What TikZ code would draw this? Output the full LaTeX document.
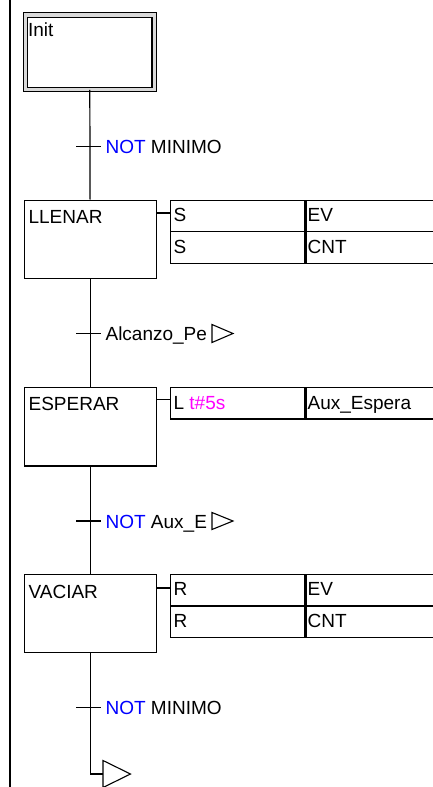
\documentclass[tikz,border=0pt]{standalone}
\usepackage{fontspec}
\setmainfont{Liberation Sans}
\definecolor{notblue}{RGB}{0,0,255}
\definecolor{timemag}{RGB}{255,0,255}
\begin{document}
\begin{tikzpicture}[x=1pt,y=-1pt,line width=1.2pt,
  stepbox/.style={draw,rectangle,minimum width=132pt,minimum height=78.5pt,inner sep=0pt,anchor=north west},
  cell/.style={draw,rectangle,inner sep=0pt,anchor=north west,minimum height=31.5pt},
  cellA/.style={cell,minimum width=134.3pt},
  cellB/.style={cell,minimum width=136pt},
  txt/.style={anchor=base west,inner sep=0pt,font=\fontsize{19}{22}\selectfont},
  jumpmark/.style={line width=1.1pt,line join=miter}]
\useasboundingbox (0,0) rectangle (433,787);
\clip (0,0) rectangle (433,787);
% left border
\draw (10,-2) -- (10,790);
% steps
\node[draw,rectangle,double=gray!30,double distance=3.3pt,minimum width=128.9pt,minimum height=74.5pt,inner sep=0pt,anchor=north west] (init) at (24.75,14.25) {};
\node[txt] (initT) at (27.5,36) {Init};
\node[stepbox] (llenar) at (23.5,199.5) {};
\node[txt] (llenarT) at (28,223) {LLENAR};
\node[stepbox] (esperar) at (23.5,386.8) {};
\node[txt] (esperarT) at (28,410.7) {ESPERAR};
\node[stepbox] (vaciar) at (23.5,573.5) {};
\node[txt] (vaciarT) at (28,598) {VACIAR};
% action tables
\node[cellA] (a1) at (170,199.5) {};
\node[cellB] (b1) at (a1.north east) {};
\node[cellA] (a2) at (170,231) {};
\node[cellB] (b2) at (a2.north east) {};
\node[txt] at (173,221.7) {S};
\node[txt] at (307,221.7) {EV};
\node[txt] at (173,253) {S};
\node[txt] at (307,253) {CNT};
\node[cellA] (a3) at (170,386.8) {};
\node[cellB] (b3) at (a3.north east) {};
\node[txt] at (173,409) {L \textcolor{timemag}{t\#5s}};
\node[txt] at (307,409) {Aux\_Espera};
\node[cellA] (a4) at (170,573.5) {};
\node[cellB] (b4) at (a4.north east) {};
\node[cellA] (a5) at (170,605.3) {};
\node[cellB] (b5) at (a5.north east) {};
\node[txt] at (173,595.5) {R};
\node[txt] at (307,595.5) {EV};
\node[txt] at (173,627) {R};
\node[txt] at (307,627) {CNT};
% action connectors
\draw ([yshift=-13.5pt]llenar.north east) -- ([yshift=-13.5pt]llenar.north east -| a1.west);
\draw ([yshift=-12.5pt]esperar.north east) -- ([yshift=-12.5pt]esperar.north east -| a3.west);
\draw ([yshift=-14.5pt]vaciar.north east) -- ([yshift=-14.5pt]vaciar.north east -| a4.west);
% transitions
\coordinate (t1) at (89.5,146.7);
\coordinate (t2) at (89.5,333.3);
\coordinate (t3) at (89.5,521);
\coordinate (t4) at (89.5,707.3);
\draw (init.south) -- (llenar.north);
\draw (llenar.south) -- (esperar.north);
\draw (esperar.south) -- (vaciar.north);
\foreach \t in {t1,t2,t3,t4}{\draw ([xshift=-13.5pt]\t) -- ([xshift=11.5pt]\t);}
\node[txt] (l1) at (105,153.7) {\textcolor{notblue}{NOT} MINIMO};
\node[txt] (l2) at (105,340.3) {Alcanzo\_Pe};
\node[txt] (l3) at (105,528) {\textcolor{notblue}{NOT} Aux\_E};
\node[txt] (l4) at (105,714.3) {\textcolor{notblue}{NOT} MINIMO};
\draw[jumpmark] (212,324.5) -- (233,333.5) -- (212,342.5) -- cycle;
\draw[jumpmark] (212,512.5) -- (233,521) -- (212,529.5) -- cycle;
% final jump
\coordinate (fin) at (103,774);
\draw (vaciar.south) |- (fin);
\draw[jumpmark] (fin) -- ++(0,-13.5) -- ++(27.5,13.5) -- ++(-27.5,13.5) -- cycle;
\end{tikzpicture}
\end{document}
